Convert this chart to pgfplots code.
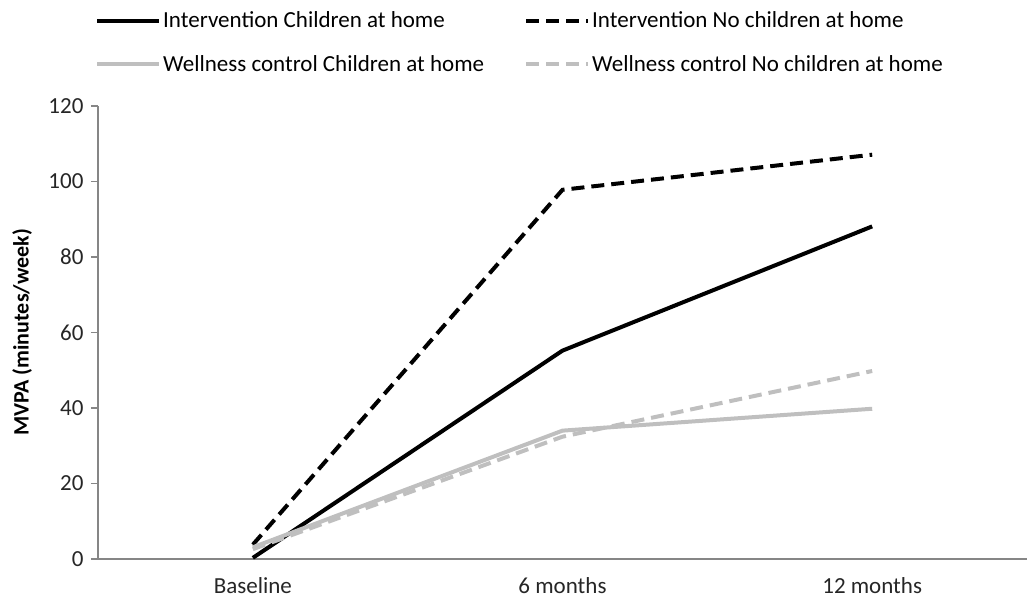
\documentclass[border=0pt]{standalone}
\usepackage{pgfplots}
\pgfplotsset{compat=1.18}
\usepackage{fontspec}
\setmainfont{Carlito}
\definecolor{axgray}{HTML}{868686}
\definecolor{lgray}{HTML}{BFBFBF}
\begin{document}
\begin{tikzpicture}[x=1pt,y=1pt]
\begin{axis}[
  scale only axis,
  width=929pt, height=453pt,
  xmin=-0.5, xmax=2.5, ymin=0, ymax=120,
  axis lines=left,
  axis line style={-, draw=axgray, line width=1.3pt},
  xtick={0,1,2},
  xticklabels={Baseline,6 months,12 months},
  major x tick style={draw=none},
  extra x ticks={-0.5,0.5,1.5,2.5},
  extra x tick labels={},
  extra x tick style={major tick length=7pt, tick style={draw=axgray, line width=1.3pt}, tick align=outside},
  ytick={0,20,...,120},
  tick align=outside,
  major tick length=7pt,
  y tick style={draw=axgray, line width=1.3pt},
  tick label style={font=\fontsize{23}{27}\selectfont, text=black!85},
  /pgf/number format/assume math mode=true,
  xticklabel style={yshift=-8pt},
  yticklabel style={xshift=-4pt},
  ylabel={\bfseries MVPA (minutes/week)},
  ylabel style={font=\fontsize{22}{26}\selectfont, at={(axis description cs:-0.0818,0.5)}, anchor=center},
  clip=false,
  legend columns=2,
  legend style={draw=none, fill=none, at={(axis description cs:0,1)}, anchor=south west, xshift=-6pt, yshift=29pt,
    font=\fontsize{23}{27}\selectfont, row sep=22pt,
    /tikz/every even column/.append style={column sep=38pt}, cells={anchor=west}},
  legend image code/.code={\draw[#1, line cap=butt] (0pt,0pt) -- (62pt,0pt);},
]
\addplot[black, line width=4pt] coordinates {(0,0.3) (1,55.2) (2,88.1)};
\addlegendentry{Intervention Children at home}
\addplot[black, line width=4pt, dash pattern=on 13pt off 7pt] coordinates {(0,3.8) (1,97.8) (2,107.1)};
\addlegendentry{Intervention No children at home}
\addplot[lgray, line width=4pt] coordinates {(0,3.1) (1,34.0) (2,39.8)};
\addlegendentry{Wellness control Children at home}
\addplot[lgray, line width=4pt, dash pattern=on 13pt off 7pt] coordinates {(0,2.6) (1,32.4) (2,49.8)};
\addlegendentry{Wellness control No children at home}
\end{axis}
\pgfresetboundingbox
\path[use as bounding box] (-98pt,-45pt) rectangle (929pt,559pt);
\end{tikzpicture}
\end{document}
